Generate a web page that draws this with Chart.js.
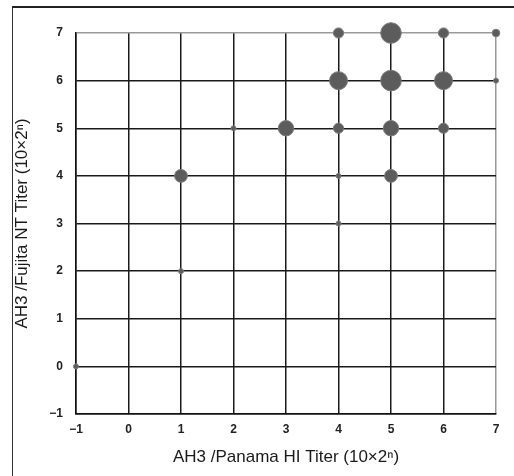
<!DOCTYPE html>
<html>
<head>
<meta charset="utf-8">
<script src="https://cdn.jsdelivr.net/npm/chart.js@4"></script>
<style>
    body { margin: 0; background: #fff; }
    #wrap { position: relative; width: 514px; height: 476px; overflow: hidden; }
    #frame {
        position: absolute; left: 12px; top: 6px; width: 520px; height: 480px;
        border-left: 1px solid #333; border-top: 2px solid #222;
    }
    #titerChart { position: absolute; left: 0; top: 0; }
</style>
</head>
<body>
<div id="wrap">
    <div id="frame"></div>
    <canvas id="titerChart" width="514" height="476"></canvas>
</div>
<script>
// HI titer (x) vs NT titer (y), number of samples at each point
const panamaHI = [-1, 1, 1, 2, 3, 4, 4, 4, 4, 4, 5, 5, 5, 5, 6, 6, 6, 7, 7];
const fujitaNT = [0, 2, 4, 5, 5, 3, 4, 5, 6, 7, 4, 5, 6, 7, 5, 6, 7, 6, 7];
const sampleCount = [1, 1, 4, 1, 5, 1, 1, 3, 6, 3, 4, 5, 7, 7, 3, 6, 3, 1, 2];

const axisMin = -1;
const axisMax = 7;

const points = [];
for (let i = 0; i < panamaHI.length; i++) {
    points.push({ x: panamaHI[i], y: fujitaNT[i], n: sampleCount[i] });
}

function bubbleSize(n) {
    return 2.5 + 1.3 * (n - 1);
}

function gridColor(ctx) {
    return ctx.tick && ctx.tick.value === axisMax ? "#9a9a9a" : "#1a1a1a";
}

const tickFont = { family: "'Liberation Sans', Arial, sans-serif", size: 12, weight: "bold" };
const titleFont = { family: "'Liberation Sans', Arial, sans-serif", size: 17 };

new Chart(document.getElementById("titerChart"), {
    type: "bubble",
    data: {
        datasets: [{
            data: points.map(p => ({ x: p.x, y: p.y, r: bubbleSize(p.n) })),
            backgroundColor: "#5c5c5c",
            borderColor: "#7a7a7a",
            borderWidth: 1,
            clip: false
        }]
    },
    options: {
        responsive: false,
        animation: false,
        devicePixelRatio: 1,
        layout: { padding: { top: 33, right: 18, left: 0, bottom: 0 } },
        plugins: {
            legend: { display: false },
            tooltip: { enabled: false }
        },
        scales: {
            x: {
                type: "linear",
                min: axisMin,
                max: axisMax,
                afterFit: s => { s.height = 62; },
                ticks: { stepSize: 1, padding: 8, color: "#222", font: tickFont,
                    callback: v => v < 0 ? "\u2212" + Math.abs(v) : String(v) },
                grid: { color: gridColor, lineWidth: 1.5, drawTicks: false },
                border: { color: "#111", width: 1.5 },
                title: { display: true, text: "AH3 /Panama HI Titer (10\u00d72\u207f)",
                    color: "#1a1a1a", font: titleFont, padding: { top: 0, bottom: 8 } }
            },
            y: {
                type: "linear",
                min: axisMin,
                max: axisMax,
                afterFit: s => { s.width = 76; },
                ticks: { stepSize: 1, padding: 13, color: "#222", font: tickFont,
                    callback: v => v < 0 ? "\u2212" + Math.abs(v) : String(v) },
                grid: { color: gridColor, lineWidth: 1.5, drawTicks: false },
                border: { color: "#111", width: 1.5 },
                title: { display: true, text: "AH3 /Fujita NT Titer (10\u00d72\u207f)",
                    color: "#1a1a1a", font: titleFont, padding: { top: 12, bottom: 0 } }
            }
        }
    }
});
</script>
</body>
</html>
